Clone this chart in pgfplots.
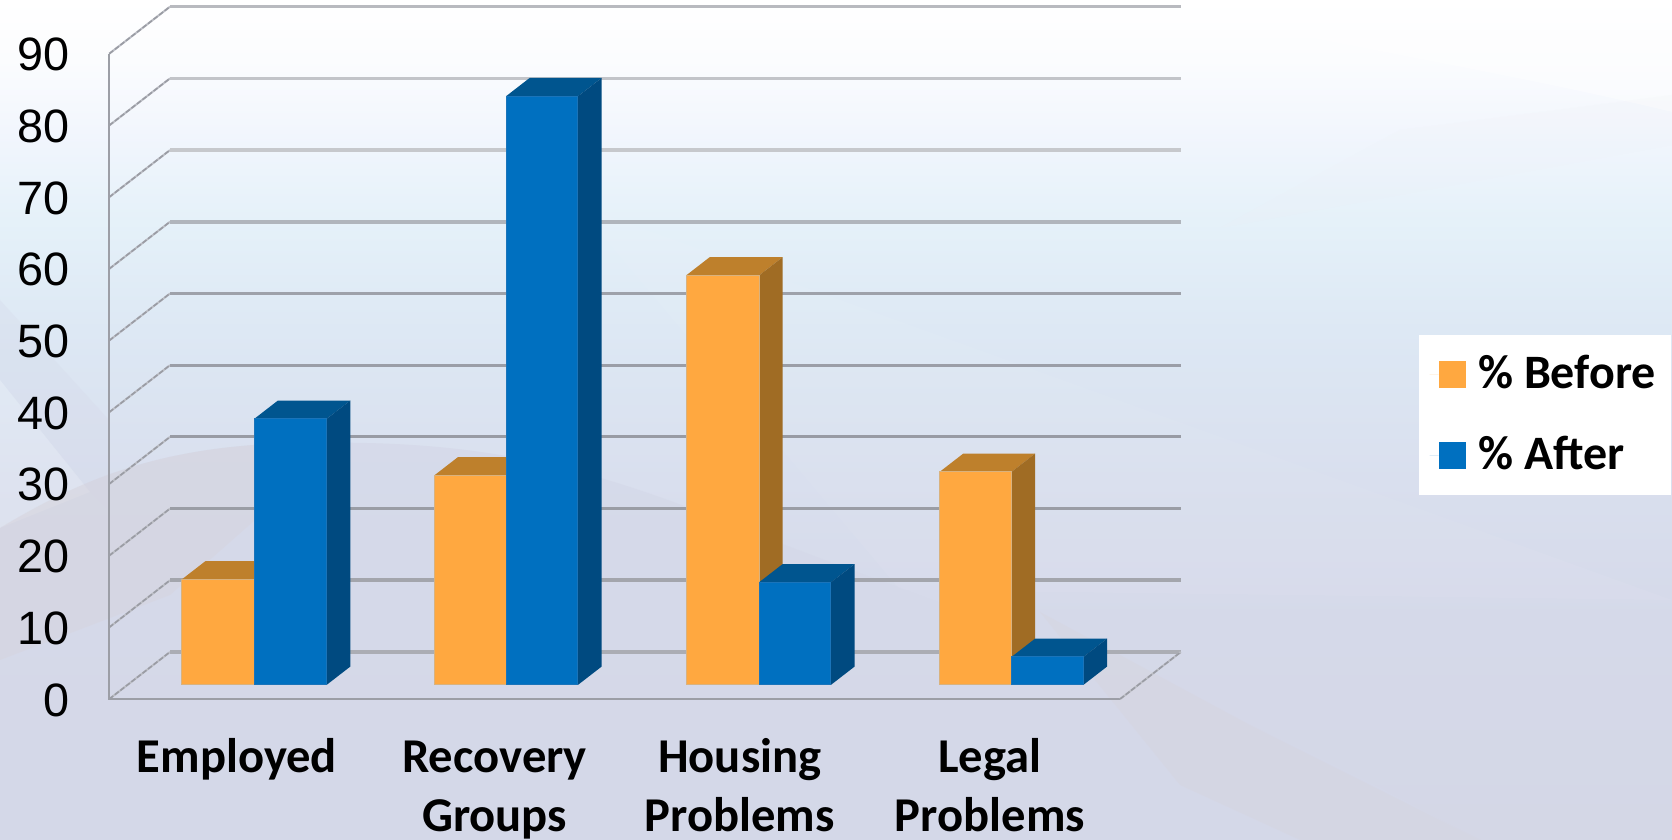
\documentclass[border=0pt]{standalone}
\usepackage{fontspec}
\setmainfont{Liberation Sans}
\newfontfamily\labelfont{Carlito}
\usepackage{pgfplots}
\pgfplotsset{compat=1.18}
\definecolor{orangeF}{HTML}{FFA840}
\definecolor{orangeS}{HTML}{A06C24}
\definecolor{orangeT}{HTML}{BE802C}
\definecolor{orangeE}{HTML}{D9B27E}
\definecolor{blueF}{HTML}{0070C0}
\definecolor{blueS}{HTML}{004A80}
\definecolor{blueT}{HTML}{00558F}
\definecolor{blueE}{HTML}{1A74BA}
\definecolor{edgec}{HTML}{9C9EA6}
\definecolor{wallL}{HTML}{BDBFC6}
\definecolor{wallD}{HTML}{9A9CA4}
\definecolor{bgA}{HTML}{D4D7E6}
\definecolor{bgB}{HTML}{D5D9E9}
\definecolor{bgC}{HTML}{D9DFEE}
\definecolor{bgD}{HTML}{DDE8F4}
\definecolor{bgE}{HTML}{E5F1F9}
\definecolor{bgF}{HTML}{F2F6FD}
\definecolor{bgG}{HTML}{FBFCFE}
\definecolor{warm}{HTML}{D6D3DA}
\definecolor{lav}{HTML}{D5D9E9}
\definecolor{gridA}{HTML}{B8BABF}
\definecolor{gridB}{HTML}{C2C4C9}
\definecolor{gridC}{HTML}{C6C8CC}
\definecolor{gridD}{HTML}{B0B5BC}
\definecolor{gridE}{HTML}{9EA2AA}
\definecolor{gridF}{HTML}{9B9EA7}
\definecolor{gridG}{HTML}{989BA4}
\definecolor{gridH}{HTML}{9A9DA5}
\definecolor{gridI}{HTML}{A3A5AC}
\definecolor{gridJ}{HTML}{ABADB4}
\pgfdeclareverticalshading{pagebg}{100bp}{
  color(0bp)=(bgA); color(25bp)=(bgA); color(38.1bp)=(bgB); color(46.43bp)=(bgC);
  color(55.36bp)=(bgD); color(61.9bp)=(bgE); color(67.26bp)=(bgF); color(71.43bp)=(bgG);
  color(75bp)=(white); color(100bp)=(white)}

% One oblique bar: top face, side face, then the front face.
% #1 left x, #2 right x, #3 value, #4 colour stem
\newcommand{\obliquebar}[4]{
  \addplot3[forget plot,draw=none,fill=#4T] coordinates {(#1,0.30,#3) (#2,0.30,#3) (#2,0.69,#3) (#1,0.69,#3)} --cycle;
  \addplot3[forget plot,draw=none,fill=#4S] coordinates {(#2,0.30,0) (#2,0.69,0) (#2,0.69,#3) (#2,0.30,#3)} --cycle;
  \addplot3[forget plot,draw=#4E,line width=0.5pt,fill=#4F] coordinates {(#1,0.30,0) (#2,0.30,0) (#2,0.30,#3) (#1,0.30,#3)} --cycle;
}
% One gridline level: thin stroke across the left wall, wider one across the back wall.
% #1 level, #2 back-wall colour, #3 back-wall width
\newcommand{\gridlevel}[3]{
  \addplot3[forget plot,draw=wallL,line width=1pt] coordinates {(0,0,#1) (0,1,#1)};
  \addplot3[forget plot,draw=wallD,line width=0.8pt,dash pattern=on 2.5pt off 1pt] coordinates {(0,0,#1) (0,1,#1)};
  \addplot3[forget plot,draw=#2,line width=#3] coordinates {(0,1,#1) (4,1,#1)};
}
\newcommand{\firstline}{\rule{0pt}{20pt}}

\begin{document}
\begin{tikzpicture}
\path[use as bounding box] (0,0) rectangle (836pt,420pt);
\clip (0,0) rectangle (836pt,420pt);
\shade[shading=pagebg] (0,0) rectangle (836pt,420pt);
% soft translucent swooshes of the slide backdrop
\begin{scope}[x=0.5pt,y=-0.5pt,shift={(0pt,420pt)}]
  \fill[white,opacity=0.05] (577,205) -- (900,590) -- (1672,600) -- cycle;
  \fill[lav,opacity=0.8] (0,528) .. controls (80,480) and (160,445) .. (300,443)
     .. controls (450,440) and (560,455) .. (720,520)
     .. controls (900,590) and (1050,640) .. (1250,725)
     .. controls (1350,770) and (1420,810) .. (1480,840) -- (0,840) -- cycle;
  \fill[lav,opacity=0.3] (0,300) -- (109,420) -- (109,510) -- (90,492) -- (0,380) -- cycle;
  \fill[white,opacity=0.15] (0,380) -- (90,492) -- (0,528) -- cycle;
  \fill[warm,opacity=0.4] (0,528) .. controls (80,480) and (160,445) .. (300,443)
     -- (340,445) -- (170,595) -- (0,660) -- cycle;
  \fill[warm,opacity=0.3] (1040,612) -- (1250,725) -- (1480,840) -- (1300,840) -- (1180,785) -- cycle;
  \fill[white,opacity=0.4] (1180,8) .. controls (1300,40) and (1500,70) .. (1672,112) -- (1672,0) -- (1180,0) -- cycle;
  \fill[lav!40!white,opacity=0.15] (1220,228) -- (1672,145) -- (1672,95) -- (1400,130) -- cycle;
\end{scope}
\begin{axis}[
  at={(54.65pt,70.5pt)}, anchor=origin,
  x={(126.35pt,0pt)}, y={(30.35pt,23.5pt)}, z={(0pt,3.585pt)},
  xmin=0, xmax=4, ymin=0, ymax=1, zmin=0, zmax=90,
  clip=false,
  axis line style={draw=none},
  tick style={draw=none},
  ytick=\empty,
  ztick={0,10,...,90},
  xtick={0.505,1.525,2.495,3.485},
  xticklabels={\firstline Employed,\firstline Recovery\\Groups,\firstline Housing\\Problems,\firstline Legal\\Problems},
  xticklabel style={font=\labelfont\bfseries\fontsize{24.3}{29.5}\selectfont,align=center,anchor=north,yshift=-13.3pt},
  zticklabel style={font=\fontsize{23.4}{23.4}\selectfont,anchor=east,xshift=-16.4pt,yshift=-0.5pt},
  /pgf/number format/assume math mode=true,
  legend style={at={(axis cs:5.68,0,39.65)},anchor=center,draw=none,fill=white,
    font=\labelfont\bfseries\fontsize{24}{24}\selectfont,
    inner xsep=5.5pt,inner ysep=7.85pt,row sep=16.4pt,
    /tikz/every odd column/.append style={column sep=4.3pt},
    nodes={text height=17pt,text depth=3pt}},
  legend cell align=left,
  legend image code/.code={
    \path[draw=none] (-4.5pt,0pt) -- (0pt,0pt);
    \fill[#1,draw=none] (0pt,-6.75pt) rectangle (13.5pt,6.75pt);},
]
% horizontal reference lines on the two walls
\gridlevel{90}{gridA}{1.4pt}
\gridlevel{80}{gridB}{1.6pt}
\gridlevel{70}{gridC}{2.4pt}
\gridlevel{60}{gridD}{1.8pt}
\gridlevel{50}{gridE}{1.4pt}
\gridlevel{40}{gridF}{1.4pt}
\gridlevel{30}{gridG}{1.6pt}
\gridlevel{20}{gridH}{1.6pt}
\gridlevel{10}{gridI}{1.8pt}
\gridlevel{0}{gridJ}{1.8pt}
% floor and left edge of the chart box
\addplot3[forget plot,edgec,line width=1.2pt] coordinates {(0,0,90) (0,0,0) (4,0,0)};
\addplot3[forget plot,wallL,line width=1pt] coordinates {(4,0,0) (4,1,0)};
\addplot3[forget plot,wallD,line width=0.8pt,dash pattern=on 2.5pt off 1pt] coordinates {(4,0,0) (4,1,0)};

\obliquebar{0.2145}{0.5015}{14.7}{orange}
\obliquebar{0.5015}{0.788}{37.1}{blue}
\obliquebar{1.2135}{1.498}{29.2}{orange}
\obliquebar{1.498}{1.7826}{82.1}{blue}
\obliquebar{2.2103}{2.499}{57.1}{orange}
\obliquebar{2.499}{2.7836}{14.3}{blue}
\obliquebar{3.2135}{3.498}{29.7}{orange}
\obliquebar{3.498}{3.7826}{3.9}{blue}

\addlegendimage{fill=orangeF}
\addlegendentry{\% Before}
\addlegendimage{fill=blueF}
\addlegendentry{\% After}
\end{axis}
\end{tikzpicture}
\end{document}
